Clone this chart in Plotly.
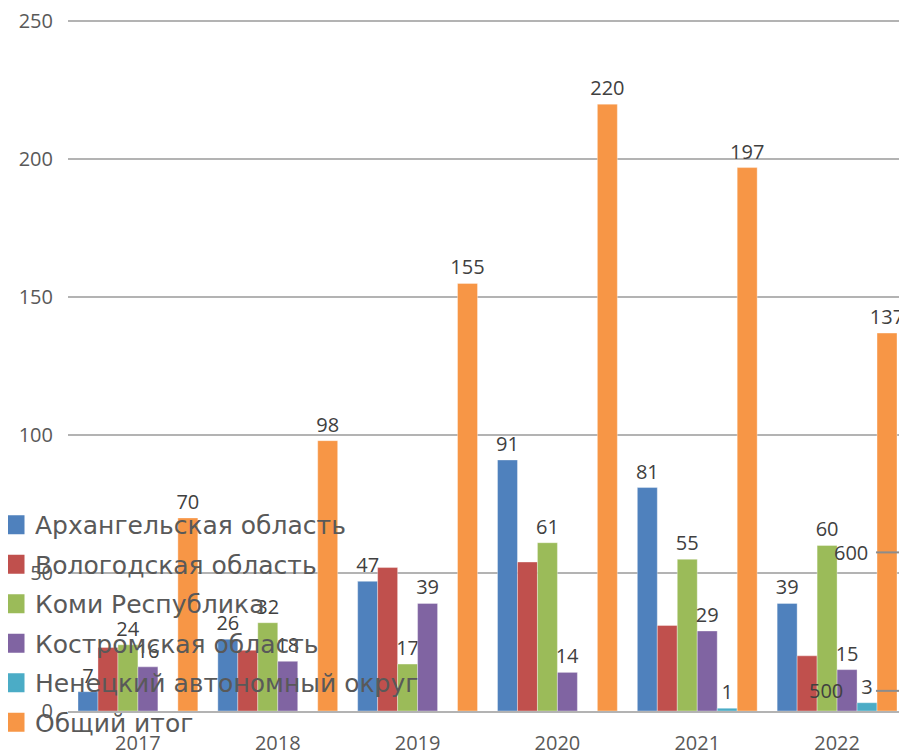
import plotly.graph_objects as go

years = ["2017", "2018", "2019", "2020", "2021", "2022"]
series_names = [
    "Архангельская область",
    "Вологодская область",
    "Коми Республика",
    "Костромская область",
    "Ненецкий автономный округ",
    "Общий итог",
]
arkhangelsk = [7, 26, 47, 91, 81, 39]
vologda = [23, 22, 52, 54, 31, 20]
komi = [24, 32, 17, 61, 55, 60]
kostroma = [16, 18, 39, 14, 29, 15]
nenets = [None, None, None, None, 1, 3]
total = [70, 98, 155, 220, 197, 137]
show_labels = [True, False, True, True, True, True]
colors = ["#4F81BD", "#C0504D", "#9BBB59", "#8064A2", "#4BACC6", "#F79646"]
y_ticks = [0, 50, 100, 150, 200, 250]
stray_ticks = [("600", 57.5, -37), ("500", 7.3, -62)]

all_values = [arkhangelsk, vologda, komi, kostroma, nenets, total]

fig = go.Figure()
for name, vals, col, lab in zip(series_names, all_values, colors, show_labels):
    fig.add_trace(go.Bar(
        x=years, y=vals, name=name,
        marker=dict(color=col, line=dict(color="rgba(255,255,255,0.35)", width=1)),
        text=[("" if v is None else str(v)) for v in vals] if lab else None,
        textposition="outside",
        textfont=dict(size=20, color="#404040", family="Open Sans"),
        cliponaxis=False,
        constraintext="none",
        showlegend=False,
    ))

# legend entries with larger square markers
for i, (name, col) in enumerate(zip(series_names, colors)):
    fig.add_trace(go.Scatter(
        x=[None], y=[None], mode="markers", name=name,
        marker=dict(symbol="square", size=16, color=col,
                    line=dict(color=col, width=3)),
        legendgroup=f"g{i}", showlegend=True,
    ))

# stray secondary-axis remnants visible in the picture
for txt, yv, xs in stray_ticks:
    fig.add_annotation(x=1.0, xref="paper", y=yv, yref="y", text=txt,
                       showarrow=False, xanchor="right", xshift=xs,
                       font=dict(size=20, color="#404040", family="Open Sans"))
    fig.add_shape(type="line", xref="paper", yref="y", x0=0.963, x1=1.0, y0=yv, y1=yv,
                  line=dict(color="#8c8c8c", width=2))

fig.update_layout(
    width=899, height=742,
    margin=dict(l=60, r=0, t=12, b=39, autoexpand=False),
    paper_bgcolor="white", plot_bgcolor="white",
    barmode="group", bargap=0.143, bargroupgap=0,
    font=dict(family="Open Sans", color="#595959", size=20),
    legend=dict(
        x=-0.087, y=0.3025, xanchor="left", yanchor="top",
        bgcolor="rgba(0,0,0,0)",
        font=dict(size=25, color="#595959", family="DejaVu Sans"),
        tracegroupgap=4, traceorder="grouped",
    ),
    xaxis=dict(
        showgrid=False, showline=True, linecolor="#b3b3b3", linewidth=2,
        ticks="", tickfont=dict(size=20, color="#595959"),
        ticklabelstandoff=13, automargin=False, ticklabeloverflow="allow",
    ),
    yaxis=dict(
        range=[0, 250.5], tickvals=y_ticks, showgrid=True,
        gridcolor="#b3b3b3", gridwidth=2, zeroline=False,
        ticks="", tickfont=dict(size=20, color="#595959"),
        ticklabelstandoff=14, automargin=False, ticklabeloverflow="allow",
    ),
)

fig.write_html("out.html")
